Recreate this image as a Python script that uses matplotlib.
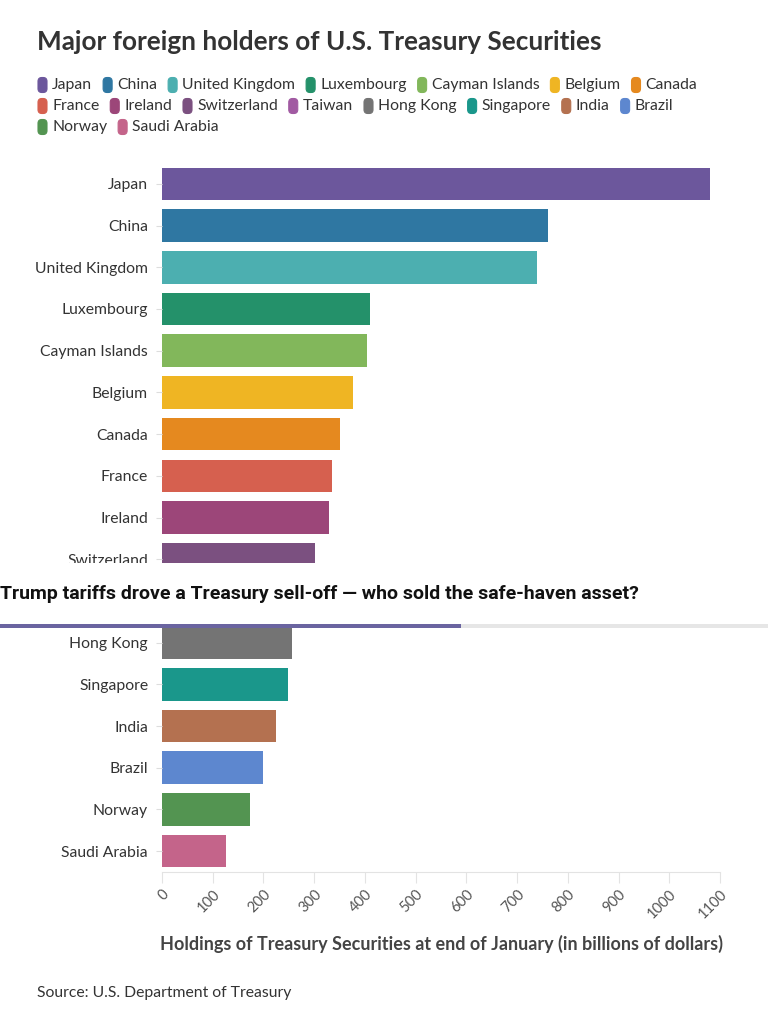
import matplotlib
matplotlib.use('Agg')
import matplotlib.pyplot as plt
from matplotlib.patches import FancyBboxPatch, Rectangle

plt.rcParams['font.family'] = ['Lato', 'DejaVu Sans']

# data (billions of dollars, end of January)
countries = ['Japan', 'China', 'United Kingdom', 'Luxembourg', 'Cayman Islands',
             'Belgium', 'Canada', 'France', 'Ireland', 'Switzerland', 'Taiwan',
             'Hong Kong', 'Singapore', 'India', 'Brazil', 'Norway', 'Saudi Arabia']
holdings = [1080, 761, 740, 410, 405, 377, 351, 336, 330, 301, 290,
            256, 248, 225, 199, 173, 127]
colors = ['#6c579c', '#2f77a2', '#4cafb0', '#24916a', '#82b75b', '#efb523',
          '#e5891f', '#d6604f', '#9c4679', '#7b5080', '#a15aa2', '#747474',
          '#1a978b', '#b47150', '#5d87cf', '#539451', '#c4648a']
xticks = list(range(0, 1101, 100))

W, H = 768, 1024
fig = plt.figure(figsize=(W / 100, H / 100), dpi=100)

def fx(px):
    return px / W

def fy(py):
    return 1 - py / H

# plot area
ax = fig.add_axes([fx(162), fy(872), fx(720) - fx(162), fy(163) - fy(872)])
ypos = list(range(len(countries)))
ax.barh(ypos, holdings, height=0.78, color=colors)
ax.set_ylim(len(countries) - 0.5, -0.5)
ax.set_xlim(0, 1100)
ax.set_yticks(ypos)
ax.set_yticklabels(countries, fontsize=11.3, color='#333333')
ax.set_xticks(xticks)
ax.set_xticklabels([str(t) for t in xticks], rotation=45, ha='right',
                   va='top', rotation_mode='anchor', fontsize=10.5, color='#555555')
for s in ['top', 'right', 'left']:
    ax.spines[s].set_visible(False)
ax.spines['bottom'].set_color('#e3e3e3')
ax.tick_params(axis='y', length=4, color='#dddddd', pad=6)
ax.tick_params(axis='x', length=8, color='#e3e3e3', pad=3)
ax.set_xlabel('Holdings of Treasury Securities at end of January (in billions of dollars)',
              fontsize=13, fontweight='bold', color='#444444', labelpad=10)

# title
fig.text(fx(37), fy(42), 'Major foreign holders of U.S. Treasury Securities',
         fontsize=18.8, fontweight='bold', color='#333333', va='center', ha='left')

# legend, laid out as rows like the original
rows = [countries[0:7], countries[7:15], countries[15:]]
fig.canvas.draw()
renderer = fig.canvas.get_renderer()
row_y = [85, 106, 127]
for r, names in enumerate(rows):
    x = 37
    for name in names:
        c = colors[countries.index(name)]
        box = FancyBboxPatch((fx(x + 1), fy(row_y[r] + 7.5)), fx(9), fy(0) - fy(15),
                             boxstyle='round,pad=0,rounding_size=0.005',
                             transform=fig.transFigure, facecolor=c,
                             edgecolor=c, linewidth=0.8, mutation_aspect=0.75)
        fig.patches.append(box)
        t = fig.text(fx(x + 15), fy(row_y[r]), name, fontsize=11.3,
                     color='#333333', va='center', ha='left')
        bb = t.get_window_extent(renderer)
        x = x + 15 + bb.width + 10

# overlay banner from the page
fig.patches.append(Rectangle((0, fy(625)), 1, fy(563) - fy(625),
                             transform=fig.transFigure, facecolor='white',
                             edgecolor='none', zorder=5))
fig.patches.append(Rectangle((0, fy(628)), 1, fy(624) - fy(628),
                             transform=fig.transFigure, facecolor='#e6e6e6',
                             edgecolor='none', zorder=6))
fig.patches.append(Rectangle((0, fy(628)), fx(461), fy(624) - fy(628),
                             transform=fig.transFigure, facecolor='#6a64a0',
                             edgecolor='none', zorder=7))
fig.text(fx(0), fy(594), 'Trump tariffs drove a Treasury sell-off \u2014 who sold the safe-haven asset?',
         fontsize=14, fontweight='bold', color='#111111', va='center', ha='left',
         zorder=8, family=['Roboto', 'DejaVu Sans'])

# source
fig.text(fx(37), fy(993), 'Source: U.S. Department of Treasury', fontsize=11.3,
         color='#333333', va='center', ha='left')

fig.savefig('out.png', dpi=100)
